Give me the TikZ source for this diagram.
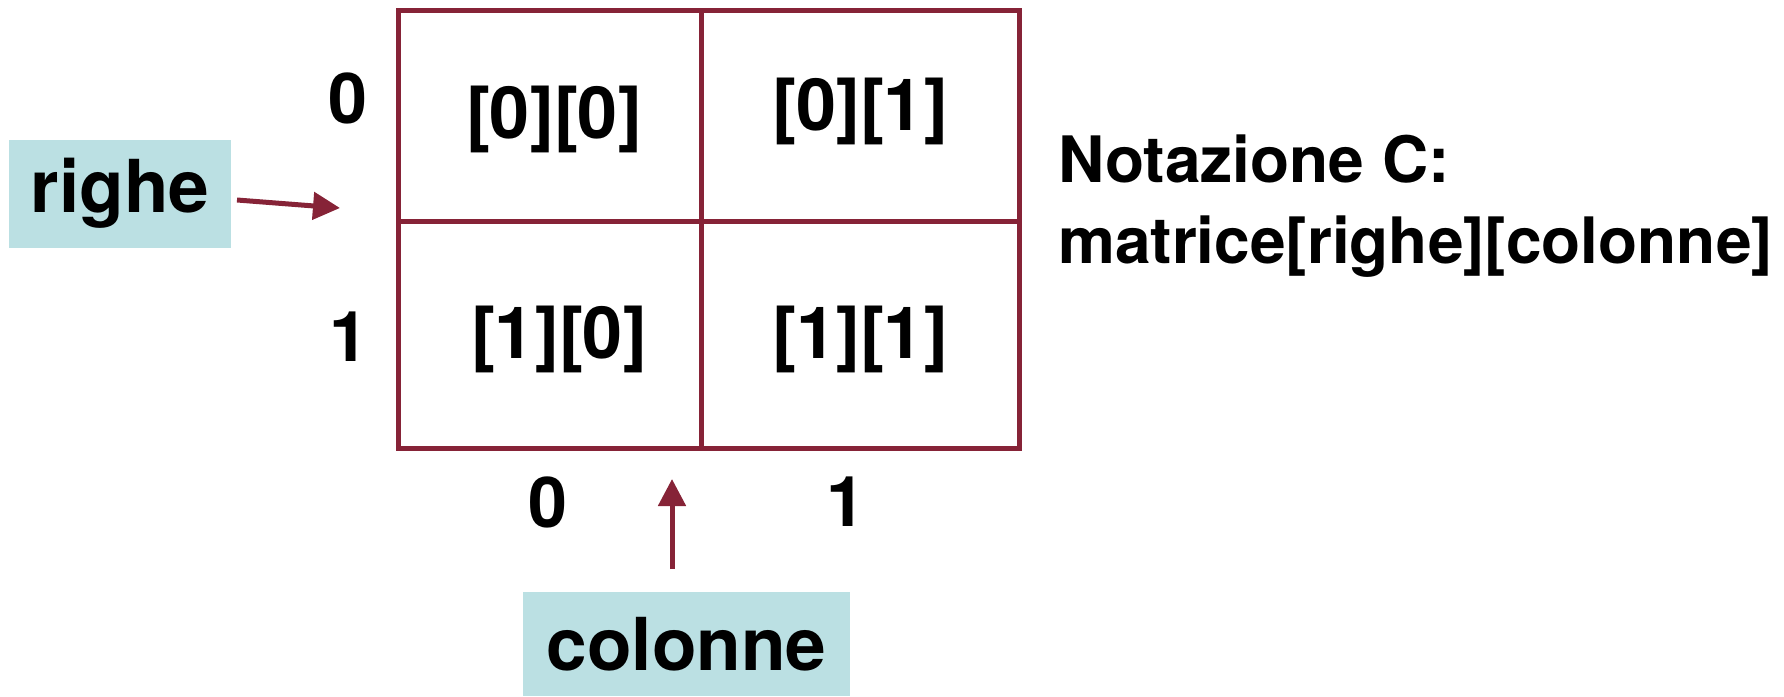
\documentclass[tikz,border=0pt]{standalone}
\usepackage{fontspec}
\setmainfont{TeX Gyre Heros}
\usetikzlibrary{arrows.meta}
\definecolor{gridred}{RGB}{134,35,55}
\definecolor{labelcyan}{RGB}{187,224,227}
\begin{document}
\begin{tikzpicture}[x=1pt,y=-1pt,
  celltext/.style={inner sep=0pt,font=\fontsize{72}{80}\selectfont\bfseries},
  idxtext/.style={inner sep=0pt,font=\fontsize{70}{78}\selectfont\bfseries},
  tagbox/.style={fill=labelcyan,inner sep=0pt,font=\fontsize{73}{80}\selectfont\bfseries},
  notetext/.style={inner sep=0pt,anchor=base west,font=\fontsize{64}{72}\selectfont\bfseries},
  gridline/.style={draw=gridred,line width=5pt},
  pointer/.style={draw=gridred,line width=5pt,-{Triangle[length=27pt,width=27pt]}}]
\useasboundingbox (0,0) rectangle (1784,696);
% grid
\draw[gridline] (398,10) rectangle (1019,448);
\draw[gridline] (701,10) -- (701,448);
\draw[gridline] (398,221) -- (1019,221);
% cells
\node[celltext] (c00) at (554,119) {[0][0]};
\node[celltext] (c01) at (860,111) {[0][1]};
\node[celltext] (c10) at (559,339) {[1][0]};
\node[celltext] (c11) at (860,339) {[1][1]};
% indices
\node[idxtext] (r0) at (348,98) {0};
\node[idxtext] (r1) at (349,337) {1};
\node[idxtext] (k0) at (548,502) {0};
\node[idxtext] (k1) at (846,502) {1};
% tags
\node[tagbox,minimum width=222pt,minimum height=108pt] (righe) at (120,193.5) {righe};
\node[tagbox,minimum width=327pt,minimum height=104pt] (colonne) at (686.5,644) {colonne};
% arrows
\coordinate (rs) at (237,200);
\coordinate (rt) at (340,208);
\draw[pointer] (rs) -- (rt);
\coordinate (cs) at (672,569);
\coordinate (ct) at (672,479);
\draw[pointer] (cs) -- (ct);
% note
\node[notetext] (n1) at (1058,182) {Notazione C:};
\node[notetext] (n2) at (1058,263) {matrice[righe][colonne]};
\end{tikzpicture}
\end{document}
